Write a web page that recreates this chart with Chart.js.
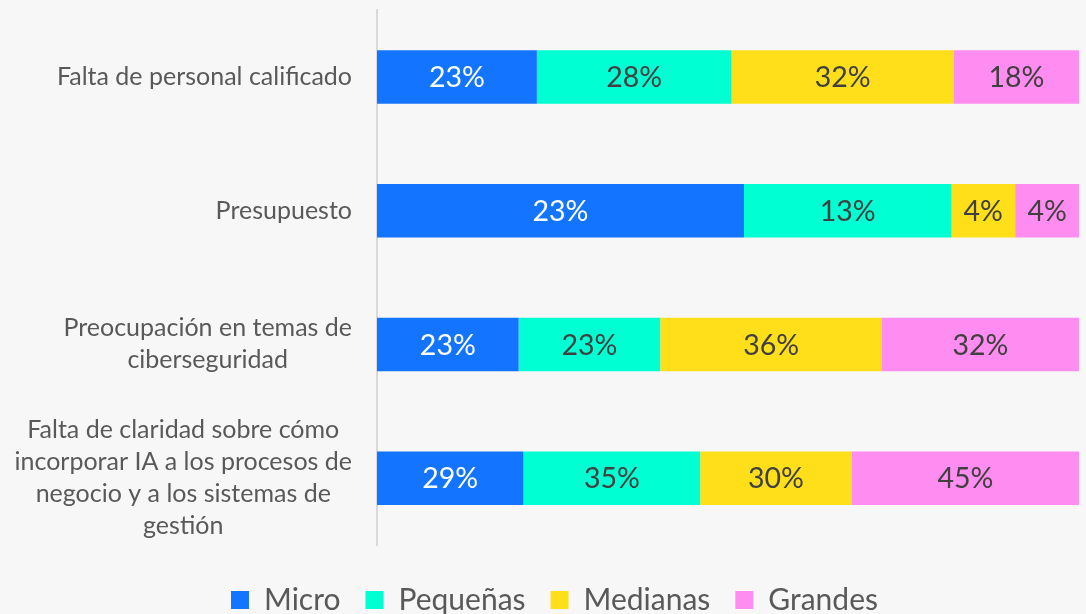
<!DOCTYPE html>
<html>
<head>
<meta charset="utf-8">
<script src="https://cdn.jsdelivr.net/npm/chart.js@4.4.1/dist/chart.umd.min.js"></script>
<style>
  html, body { margin: 0; padding: 0; background: #f7f7f7; overflow: hidden; }
  #wrap { width: 1086px; height: 625px; }
</style>
</head>
<body>
<div id="wrap"><canvas id="barChart"></canvas></div>
<script>
// Data
const categories = [
  ["Falta de personal calificado"],
  ["Presupuesto"],
  ["Preocupación en temas de", "ciberseguridad"],
  ["Falta de claridad sobre cómo", "incorporar IA a los procesos de", "negocio y a los sistemas de", "gestión"]
];
const seriesNames = ["Micro", "Pequeñas", "Medianas", "Grandes"];
const micro = [23, 23, 23, 29];
const pequenas = [28, 13, 23, 35];
const medianas = [32, 4, 36, 30];
const grandes = [18, 4, 32, 45];

const colors = ["#1274ff", "#00ffd2", "#ffde1a", "#ff8cf0"];
const textColors = ["#ffffff", "#404040", "#404040", "#404040"];
const FONT = "Lato";

// bars are 100% stacked: each row is scaled to its own total
const allSeries = [micro, pequenas, medianas, grandes];
const rowTotals = categories.map((c, i) => allSeries.reduce((s, arr) => s + arr[i], 0));
const toShare = arr => arr.map((v, i) => v / rowTotals[i] * 100);

// Category labels: block right-aligned to the axis, lines centred inside the block
const yLabelPlugin = {
  id: "yLabels",
  afterDraw(chart) {
    const { ctx, scales: { y } } = chart;
    ctx.save();
    ctx.font = "25px " + FONT;
    ctx.fillStyle = "#595959";
    ctx.textAlign = "center";
    ctx.textBaseline = "middle";
    const lineH = 32;
    categories.forEach((lines, i) => {
      const cy = y.getPixelForValue(i);
      const w = Math.max(...lines.map(l => ctx.measureText(l).width));
      const cx = y.right - 25 - w / 2;
      lines.forEach((l, j) => {
        ctx.fillText(l, cx, cy + (j - (lines.length - 1) / 2) * lineH);
      });
    });
    ctx.restore();
  }
};

// Value labels in the middle of each segment
const valueLabelPlugin = {
  id: "valueLabels",
  afterDatasetsDraw(chart) {
    const { ctx } = chart;
    ctx.save();
    ctx.font = "28.5px " + FONT;
    ctx.textAlign = "center";
    ctx.textBaseline = "middle";
    chart.data.datasets.forEach((ds, di) => {
      ctx.fillStyle = textColors[di];
      chart.getDatasetMeta(di).data.forEach((bar, i) => {
        const { x, base, y } = bar.getProps(["x", "base", "y"], true);
        ctx.fillText(ds.raw[i] + "%", (x + base) / 2, y + 1);
      });
    });
    ctx.restore();
  }
};

const ctx = document.getElementById("barChart").getContext("2d");
new Chart(ctx, {
  type: "bar",
  data: {
    labels: categories,
    datasets: seriesNames.map((name, i) => ({
      label: name,
      data: toShare(allSeries[i]),
      raw: allSeries[i],
      backgroundColor: colors[i],
      borderWidth: 0,
      barPercentage: 0.8,
      categoryPercentage: 0.5
    }))
  },
  options: {
    indexAxis: "y",
    responsive: true,
    maintainAspectRatio: false,
    animation: false,
    layout: { padding: { top: 10, right: 7, left: 30, bottom: 0 } },
    scales: {
      x: {
        stacked: true,
        min: 0,
        max: 100,
        ticks: { display: false },
        grid: { display: false },
        border: { display: false },
        afterFit: s => { s.height = 15; }
      },
      y: {
        stacked: true,
        ticks: { display: false },
        grid: { display: false },
        border: { color: "#d9d9d9", width: 2 },
        afterFit: s => { s.width = 347; }
      }
    },
    plugins: {
      tooltip: { enabled: false },
      legend: {
        position: "bottom",
        labels: {
          font: { family: FONT, size: 30 },
          color: "#595959",
          boxWidth: 18,
          boxHeight: 18,
          padding: 25
        }
      }
    }
  },
  plugins: [yLabelPlugin, valueLabelPlugin]
});
</script>
</body>
</html>
